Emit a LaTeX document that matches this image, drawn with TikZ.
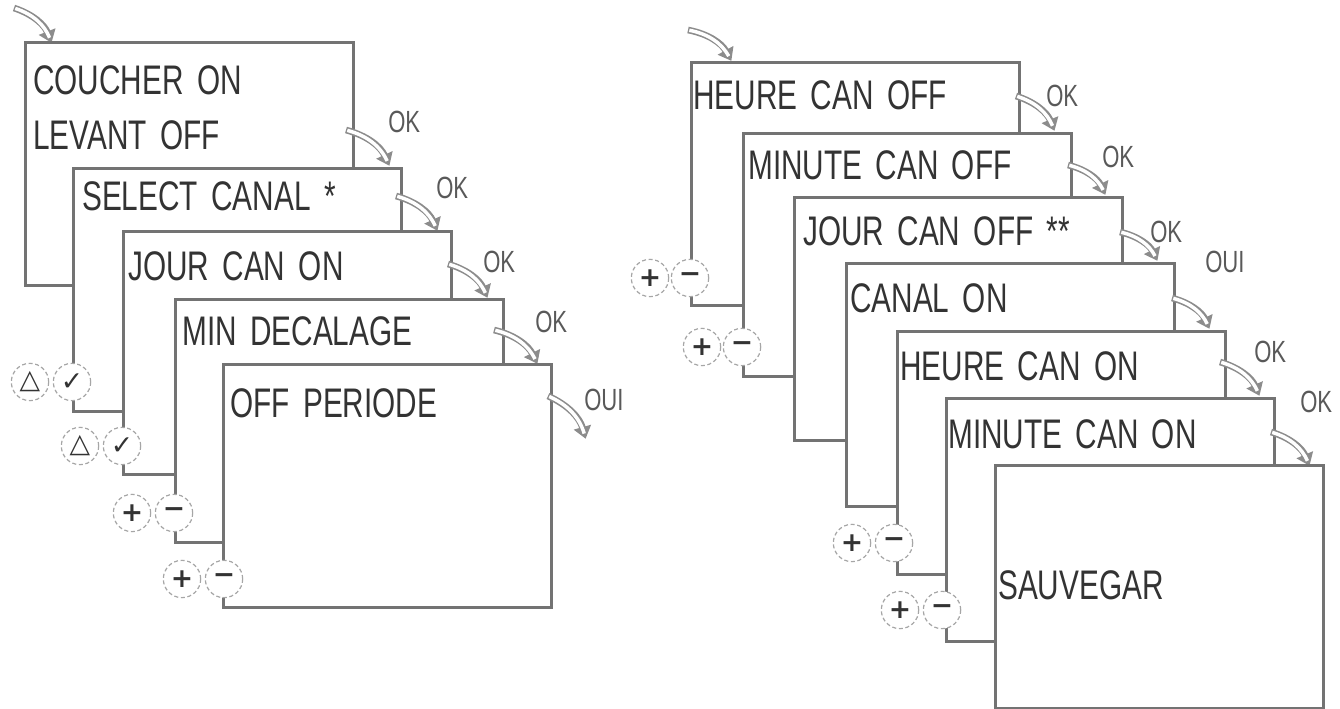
\documentclass[tikz,border=0pt]{standalone}
\usepackage{fontspec}
\setmainfont{Liberation Sans}
\newfontfamily\djv{DejaVu Sans}
\usetikzlibrary{arrows.meta}
\newcommand{\lcd}[1]{\scalebox{0.72}[1]{\spaceskip=0.45em #1}}
\begin{document}
\begin{tikzpicture}[x=0.75pt,y=-0.75pt,
  box/.style={draw=black!55,line width=2.2pt,fill=white,anchor=north west,minimum width=246pt,minimum height=182pt,inner sep=0pt},
  txt/.style={anchor=west,inner sep=0pt,text=black!80,font=\fontsize{31}{31}\selectfont},
  lab/.style={anchor=west,inner sep=0pt,text=black!65,font=\fontsize{23}{23}\selectfont},
  btn/.style={circle,draw=black!35,densely dashed,line width=0.9pt,fill=white,minimum size=28pt,inner sep=0pt,text=black!80,font=\djv\bfseries\fontsize{20}{20}\selectfont},
  garr/.style={draw=black!45,line width=5pt,-{Triangle[length=9pt,width=13pt]},shorten >=1pt},
  garrin/.style={draw=white,line width=2.6pt,shorten >=5pt,shorten <=1pt}]
\useasboundingbox (0,0) rectangle (1340,709);
\newcommand{\arr}[3]{\draw[garr] (#1) to[bend left=#3] (#2); \draw[garrin] (#1) to[bend left=#3] (#2);}
% ---------- left stack ----------
\coordinate (s0) at (14,8); \coordinate (e0) at (52,44);
\arr{s0}{e0}{25}
\node[box] (l1) at (24,41) {};
\node[txt] (t1a) at (33,80) {\lcd{COUCHER ON}};
\node[txt] (t1b) at (33,135) {\lcd{LEVANT OFF}};
\coordinate (s1) at (346,130); \coordinate (e1) at (390,167);
\arr{s1}{e1}{25}
\node[lab] (k1) at (388,122) {\lcd{OK}};
\node[box] (l2) at (72,167) {};
\node[txt] (t2) at (82,196) {\lcd{SELECT CANAL *}};
\node[btn] (a2) at (30,382) {△};
\node[btn] (c2) at (72,382) {✓};
\coordinate (s2) at (396,196); \coordinate (e2) at (438,232);
\arr{s2}{e2}{25}
\node[lab] (k2) at (436,188) {\lcd{OK}};
\node[box] (l3) at (122,230) {};
\node[txt] (t3) at (128,266) {\lcd{JOUR CAN ON}};
\node[btn] (a3) at (80,446) {△};
\node[btn] (c3) at (122,446) {✓};
\coordinate (s3) at (448,264); \coordinate (e3) at (488,299);
\arr{s3}{e3}{25}
\node[lab] (k3) at (483,262) {\lcd{OK}};
\node[box] (l4) at (174,298) {};
\node[txt] (t4) at (182,331) {\lcd{MIN DECALAGE}};
\node[btn] (p4) at (132,513) {+};
\node[btn] (m4) at (174,513) {−};
\coordinate (s4) at (494,330); \coordinate (e4) at (538,365);
\arr{s4}{e4}{25}
\node[lab] (k4) at (535,322) {\lcd{OK}};
\node[box] (l5) at (222,363) {};
\node[txt] (t5) at (230,403) {\lcd{OFF PERIODE}};
\node[btn] (p5) at (182,579) {+};
\node[btn] (m5) at (224,579) {−};
\coordinate (s5) at (548,396); \coordinate (e5) at (586,440);
\arr{s5}{e5}{25}
\node[lab] (k5) at (584,400) {\lcd{OUI}};
% ---------- right stack ----------
\coordinate (r0) at (688,30); \coordinate (f0) at (732,62);
\arr{r0}{f0}{25}
\node[box] (r1) at (690,61) {};
\node[txt] (u1) at (693,95) {\lcd{HEURE CAN OFF}};
\node[btn] (q1) at (650,278) {+};
\node[btn] (n1) at (690,278) {−};
\coordinate (g1) at (1016,96); \coordinate (h1) at (1055,132);
\arr{g1}{h1}{25}
\node[lab] (o1) at (1046,96) {\lcd{OK}};
\node[box] (r2) at (742,132) {};
\node[txt] (u2) at (748,165) {\lcd{MINUTE CAN OFF}};
\node[btn] (q2) at (702,347) {+};
\node[btn] (n2) at (742,347) {−};
\coordinate (g2) at (1068,165); \coordinate (h2) at (1106,196);
\arr{g2}{h2}{25}
\node[lab] (o2) at (1102,157) {\lcd{OK}};
\node[box] (r3) at (793,196) {};
\node[txt] (u3) at (803,231) {\lcd{JOUR CAN OFF **}};
\coordinate (g3) at (1120,232); \coordinate (h3) at (1158,262);
\arr{g3}{h3}{25}
\node[lab] (o3) at (1150,232) {\lcd{OK}};
\node[box] (r4) at (845,262) {};
\node[txt] (u4) at (850,298) {\lcd{CANAL ON}};
\coordinate (g4) at (1172,298); \coordinate (h4) at (1210,330);
\arr{g4}{h4}{25}
\node[lab] (o4) at (1205,262) {\lcd{OUI}};
\node[box] (r5) at (896,330) {};
\node[txt] (u5) at (900,366) {\lcd{HEURE CAN ON}};
\node[btn] (q5) at (852,543) {+};
\node[btn] (n5) at (894,543) {−};
\coordinate (g5) at (1220,362); \coordinate (h5) at (1260,397);
\arr{g5}{h5}{25}
\node[lab] (o5) at (1254,352) {\lcd{OK}};
\node[box] (r6) at (945,397) {};
\node[txt] (u6) at (948,434) {\lcd{MINUTE CAN ON}};
\node[btn] (q6) at (900,610) {+};
\node[btn] (n6) at (942,610) {−};
\coordinate (g6) at (1271,432); \coordinate (h6) at (1310,467);
\arr{g6}{h6}{25}
\node[lab] (o6) at (1300,402) {\lcd{OK}};
\node[box] (r7) at (994,464) {};
\node[txt] (u7) at (998,585) {\lcd{SAUVEGAR}};
\end{tikzpicture}
\end{document}
